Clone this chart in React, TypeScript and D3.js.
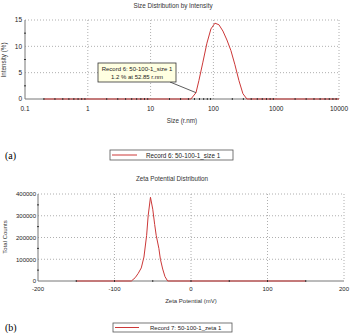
import React from 'react'
import * as d3 from 'd3'

// Size distribution (r.nm vs intensity %)
const sizeNm = [0.2, 1, 10, 30, 43.82, 52.85, 58.77, 68.06, 78.82, 91.28, 105.7, 122.4, 141.8, 164.2, 190.1, 220.2, 255.0, 295.3, 342.0, 1000, 10000]
const intensity = [0, 0, 0, 0, 0, 1.2, 3.5, 7.0, 10.6, 13.3, 14.4, 14.1, 12.9, 11.2, 9.2, 6.5, 3.5, 1.0, 0, 0, 0]
const sizeTicks = [0.1, 1, 10, 100, 1000, 10000]
const sizeTickLabels = ['0.1', '1', '10', '100', '1000', '10000']
const intensityTicks = [0, 5, 10, 15]

// Zeta potential (mV vs total counts)
const zetaMv = [-150, -78, -73, -69, -65, -61.5, -58, -56, -53, -50, -47.5, -45.5, -42, -40, -37, -34, -30.5, 150]
const zetaCounts = [0, 0, 15000, 35000, 60000, 110000, 210000, 300000, 385000, 330000, 260000, 210000, 150000, 100000, 55000, 20000, 0, 0]
const zetaTicks = [-200, -100, 0, 100, 200]
const countTicks = [0, 100000, 200000, 300000, 400000]

const RED = '#cc3838'
const FONT = 'Liberation Sans, Arial, sans-serif'

export default function App() {
  // top chart
  const x1 = d3.scaleLog().domain([0.1, 10000]).range([25, 339])
  const y1 = d3.scaleLinear().domain([0, 15]).range([99, 20])
  const sizeData = sizeNm.map((s, i) => [s, intensity[i]] as [number, number])
  const line1 = d3.line<[number, number]>().x(d => x1(d[0])).y(d => y1(d[1]))
  const minorX1: number[] = []
  for (let e = -1; e < 4; e++) for (let k = 2; k < 10; k++) minorX1.push(k * Math.pow(10, e))

  // bottom chart
  const x2 = d3.scaleLinear().domain([-200, 200]).range([38, 344])
  const y2 = d3.scaleLinear().domain([0, 400000]).range([281, 194])
  const zetaData = zetaMv.map((v, i) => [v, zetaCounts[i]] as [number, number])
  const line2 = d3.line<[number, number]>().x(d => x2(d[0])).y(d => y2(d[1]))
  const minorX2 = d3.range(-150, 200, 50)
  const minorY2 = d3.range(50000, 400000, 100000)

  const grid = { stroke: '#9a9a9a', strokeWidth: 0.8, strokeDasharray: '1,2' }
  const tickTxt = { fontSize: 6.5, fill: '#222', fontFamily: FONT }

  const ptX = x1(52.85), ptY = y1(1.2)

  return (
    <div style={{ position: 'absolute', left: 0, top: 0 }}>
      <svg width={350} height={333} style={{ display: 'block', background: '#fff' }}>
        {/* ---------- (a) size distribution ---------- */}
        <text x={173} y={8} textAnchor="middle" fontSize={6.3} fill="#333" fontFamily={FONT}>Size Distribution by Intensity</text>
        {intensityTicks.filter(t => t > 0).map(t => (
          <line key={'gy' + t} x1={25} x2={339} y1={y1(t)} y2={y1(t)} {...grid} />
        ))}
        {sizeTicks.slice(1).map(t => (
          <line key={'gx' + t} x1={x1(t)} x2={x1(t)} y1={20} y2={99} {...grid} />
        ))}
        <line x1={25} x2={25} y1={20} y2={99} stroke="#777" strokeWidth={1} />
        <line x1={25} x2={339} y1={99} y2={99} stroke="#777" strokeWidth={1} />
        {[2.5, 7.5, 12.5].map(t => (
          <line key={'my' + t} x1={24} x2={26} y1={y1(t)} y2={y1(t)} stroke="#333" strokeWidth={1} />
        ))}
        {intensityTicks.map(t => (
          <text key={'ty' + t} x={22} y={y1(t) + 2.3} textAnchor="end" {...tickTxt}>{t}</text>
        ))}
        {sizeTicks.map((t, i) => (
          <text key={'tx' + t} x={x1(t)} y={111} textAnchor="middle" {...tickTxt}>{sizeTickLabels[i]}</text>
        ))}
        <path d={line1(sizeData) || ''} fill="none" stroke={RED} strokeWidth={1} />
        {minorX1.map(t => (
          <line key={'mx' + t} x1={x1(t)} x2={x1(t)} y1={98} y2={100} stroke="#333" strokeWidth={1} />
        ))}
        <text transform="translate(6,60) rotate(-90)" textAnchor="middle" fontSize={6.3} fill="#333" fontFamily={FONT}>Intensity (%)</text>
        <text x={182} y={123} textAnchor="middle" fontSize={6.3} fill="#333" fontFamily={FONT}>Size (r.nm)</text>

        {/* annotation */}
        <line x1={170} y1={82} x2={ptX} y2={ptY} stroke="#333" strokeWidth={0.8} />
        <rect x={98} y={63} width={78} height={19} fill="#ffffe1" stroke="#333" strokeWidth={0.8} />
        <text x={137} y={71} textAnchor="middle" fontSize={6} fill="#222" fontFamily={FONT}>Record 6: 50-100-1_size 1</text>
        <text x={137} y={79} textAnchor="middle" fontSize={6} fill="#222" fontFamily={FONT}>1.2 % at 52.85 r.nm</text>

        <text x={5} y={159} fontSize={10} fill="#000" fontFamily="Liberation Serif, Times New Roman, serif">(a)</text>
        <rect x={110} y={150} width={123} height={10} fill="#fff" stroke="#555" strokeWidth={0.8} />
        <line x1={112} x2={137} y1={155} y2={155} stroke={RED} strokeWidth={1} />
        <text x={146} y={157.5} fontSize={6.3} fill="#222" fontFamily={FONT}>Record 6: 50-100-1_size 1</text>

        {/* ---------- (b) zeta potential ---------- */}
        <text x={172} y={181} textAnchor="middle" fontSize={6.3} fill="#333" fontFamily={FONT}>Zeta Potential Distribution</text>
        {countTicks.filter(t => t > 0).map(t => (
          <line key={'gy2' + t} x1={38} x2={344} y1={y2(t)} y2={y2(t)} {...grid} />
        ))}
        {zetaTicks.slice(1).map(t => (
          <line key={'gx2' + t} x1={x2(t)} x2={x2(t)} y1={194} y2={281} {...grid} />
        ))}
        <line x1={38} x2={38} y1={194} y2={281} stroke="#777" strokeWidth={1} />
        <line x1={38} x2={344} y1={281} y2={281} stroke="#777" strokeWidth={1} />
        {minorY2.map(t => (
          <line key={'my2' + t} x1={37} x2={39} y1={y2(t)} y2={y2(t)} stroke="#333" strokeWidth={1} />
        ))}
        {countTicks.map(t => (
          <text key={'ty2' + t} x={36} y={y2(t) + 2.3} textAnchor="end" {...tickTxt} fontSize={6}>{t}</text>
        ))}
        {zetaTicks.map(t => (
          <text key={'tx2' + t} x={x2(t)} y={291} textAnchor="middle" {...tickTxt} fontSize={6}>{t}</text>
        ))}
        <path d={line2(zetaData) || ''} fill="none" stroke={RED} strokeWidth={1} />
        {minorX2.map(t => (
          <line key={'mx2' + t} x1={x2(t)} x2={x2(t)} y1={280} y2={282} stroke="#333" strokeWidth={1} />
        ))}
        <text transform="translate(7,237) rotate(-90)" textAnchor="middle" fontSize={6} fill="#333" fontFamily={FONT}>Total Counts</text>
        <text x={191} y={303} textAnchor="middle" fontSize={6} fill="#333" fontFamily={FONT}>Zeta Potential (mV)</text>

        <text x={5} y={331} fontSize={10} fill="#000" fontFamily="Liberation Serif, Times New Roman, serif">(b)</text>
        <rect x={113} y={323} width={119} height={9} fill="#fff" stroke="#555" strokeWidth={0.8} />
        <line x1={115} x2={139} y1={327.5} y2={327.5} stroke={RED} strokeWidth={1} />
        <text x={150} y={330} fontSize={6} fill="#222" fontFamily={FONT}>Record 7: 50-100-1_zeta 1</text>
      </svg>
    </div>
  )
}
